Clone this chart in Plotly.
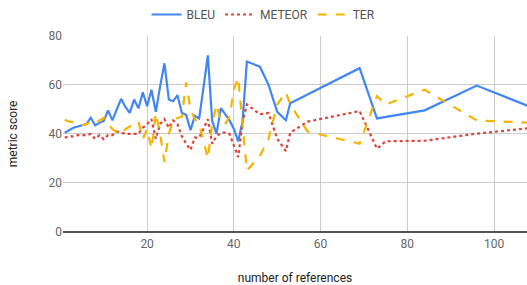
import plotly.graph_objects as go

refs = list(range(1, 44)) + [46, 48, 50, 52, 53, 57, 69, 73, 75, 84, 96, 108]

bleu = [40.5, 41.5, 42.5, 43, 43.5, 44, 46.6, 43.5, 44.5, 45.3,
        49.6, 45.5, 50, 54.3, 51, 48.6, 54, 50.4, 57, 51.3,
        58, 49, 59.4, 68.8, 54, 53.3, 55.8, 48.6, 47.7, 41.5,
        47.3, 46.3, 59, 72, 45.3, 40, 50.5, 48, 45.5, 42,
        37, 45, 69.5,
        67.4, 60, 49, 45.6, 52.5, 56.1, 66.8, 46.3, 46.9, 49.6, 59.7, 51.3]

meteor = [38.5, 39, 39, 39.5, 39.5, 39.5, 40, 38, 39.5, 37.8,
          39.5, 39.5, 41, 40.5, 40, 40, 40, 40, 42.5, 44,
          46, 38, 44, 46, 42.5, 45.5, 44, 39, 36, 33.5,
          38.5, 38.5, 42, 46, 36, 39, 40.5, 40.5, 40, 35,
          30.5, 44.5, 52,
          48, 48.5, 38, 33, 40.5, 45, 49.3, 34, 37, 37.2, 40.1, 42.3]

ter = [45.8, 45, 44.8, 44.5, 43.5, 44, 45, 44, 45.5, 46.5,
       44, 42, 40.5, 40, 42, 43, 44.5, 45, 38, 42,
       34, 48.5, 40, 28.5, 40, 45.5, 46.5, 47, 61, 50,
       46, 44, 37, 30, 44, 52, 45, 44, 47, 58,
       63, 44, 25,
       31, 38, 52, 57, 52, 41, 36, 55.4, 52, 58, 45.5, 44.6]

series_names = ["BLEU", "METEOR", "TER"]
y_ticks = [0, 20, 40, 60, 80]
x_ticks = [20, 40, 60, 80, 100]

fig = go.Figure()
fig.add_trace(go.Scatter(x=refs, y=bleu, name=series_names[0], mode="lines",
                         line=dict(color="#4285F4", width=2.2)))
fig.add_trace(go.Scatter(x=refs, y=meteor, name=series_names[1], mode="lines",
                         line=dict(color="#DB4437", width=2.2, dash="dot")))
fig.add_trace(go.Scatter(x=refs, y=ter, name=series_names[2], mode="lines",
                         line=dict(color="#F4B400", width=2.2, dash="dash")))

fig.update_layout(
    width=527, height=285,
    margin=dict(l=63, r=0, t=34, b=53),
    paper_bgcolor="white", plot_bgcolor="white",
    font=dict(family="Roboto, Arial, sans-serif", size=12, color="#444"),
    showlegend=True,
    legend=dict(orientation="h", xref="container", yref="container",
                x=0.5, xanchor="center", y=1.0, yanchor="top",
                font=dict(size=12, color="#555"),
                itemwidth=30, tracegroupgap=0, bgcolor="rgba(0,0,0,0)"),
    xaxis=dict(range=[0.6, 107.6], tickvals=x_ticks, showgrid=True,
               gridcolor="#cccccc", gridwidth=1, zeroline=False,
               showline=False, ticks="", ticklabelstandoff=3,
               tickfont=dict(size=12, color="#666"),
               title=dict(text="number of references", standoff=24,
                          font=dict(size=12, color="#222"))),
    yaxis=dict(range=[0, 80], tickvals=y_ticks, showgrid=True,
               gridcolor="#cccccc", gridwidth=1, zeroline=True,
               zerolinecolor="#555", zerolinewidth=1.5,
               showline=False, ticks="", ticklen=6,
               tickfont=dict(size=12, color="#666"),
               title=dict(text="metric score", standoff=28,
                          font=dict(size=12, color="#222"))),
)

fig.write_html("out.html", config={"displayModeBar": False},
               post_script="document.body.style.margin='0';document.body.style.overflow='hidden';")
